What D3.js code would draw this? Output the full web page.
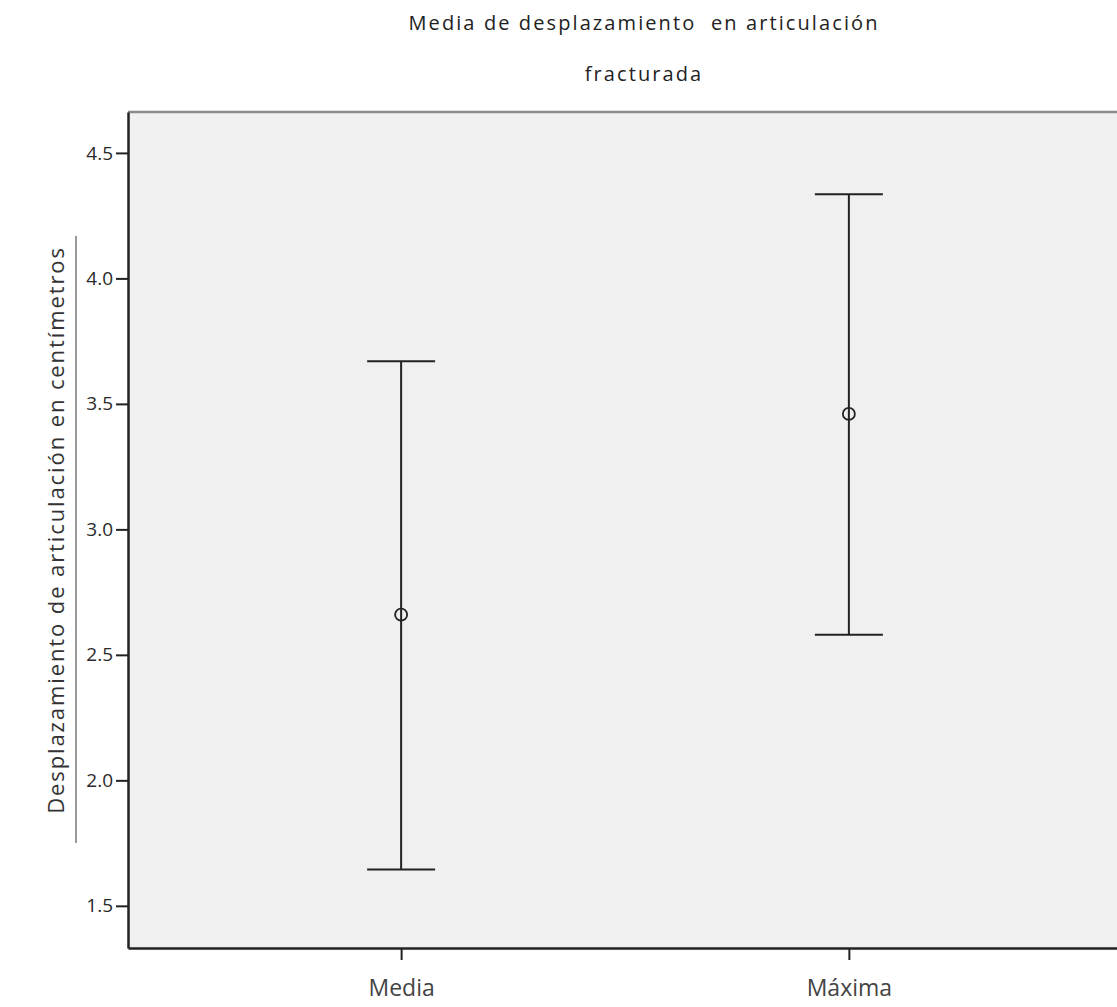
<!DOCTYPE html>
<html>
<head>
<meta charset="utf-8">
<script src="https://cdn.jsdelivr.net/npm/d3@7"></script>
<style>
  body { margin: 0; background: #fff; }
  text { font-family: "Open Sans", "Noto Sans", sans-serif; }
</style>
</head>
<body>
<div id="chart"></div>
<script>
// values
var categories = ["Media", "Máxima"];
var means = [2.66, 3.46];
var upper = [3.67, 4.335];
var lower = [1.645, 2.58];
var yTicks = [1.5, 2.0, 2.5, 3.0, 3.5, 4.0, 4.5];
var titleLines = ["Media de desplazamiento  en articulación", "fracturada"];
var yTitle = "Desplazamiento de articulación en centímetros";

var W = 1117, H = 1007;
var pLeft = 128, pTop = 112, pRight = 1122, pBottom = 948;

var svg = d3.select("#chart").append("svg")
    .attr("width", W)
    .attr("height", H);

var x = d3.scalePoint()
    .domain(categories)
    .range([pLeft, pRight])
    .padding(0.61);

var y = d3.scaleLinear()
    .domain([1.332, 4.663])
    .range([pBottom, pTop]);

// plot background
svg.append("rect")
    .attr("x", pLeft)
    .attr("y", pTop)
    .attr("width", pRight - pLeft)
    .attr("height", pBottom - pTop)
    .attr("fill", "#f0f0f0");

svg.append("line")
    .attr("x1", pLeft).attr("x2", pRight)
    .attr("y1", pTop).attr("y2", pTop)
    .attr("stroke", "#8a8a8a")
    .attr("stroke-width", 2.5);

// axes
var yAxis = svg.append("g")
    .attr("transform", "translate(" + pLeft + ",0)")
    .call(d3.axisLeft(y).tickValues(yTicks).tickFormat(d3.format(".1f")).tickSize(12).tickPadding(3).tickSizeOuter(0));

var xAxis = svg.append("g")
    .attr("transform", "translate(0," + pBottom + ")")
    .call(d3.axisBottom(x).tickSize(12).tickPadding(20).tickSizeOuter(0));

yAxis.select(".domain").attr("stroke", "#222").attr("stroke-width", 2.5);
xAxis.select(".domain").attr("stroke", "#222").attr("stroke-width", 2.5);
yAxis.selectAll(".tick line").attr("stroke", "#222").attr("stroke-width", 2);
xAxis.selectAll(".tick line").attr("stroke", "#222").attr("stroke-width", 2);
yAxis.selectAll(".tick text")
    .attr("font-size", 19)
    .attr("font-family", "Open Sans, sans-serif")
    .attr("fill", "#2a2a2a");
xAxis.selectAll(".tick text")
    .attr("font-size", 23)
    .attr("font-family", "Open Sans, sans-serif")
    .attr("fill", "#444");

// error bars
var capW = 68;
var bars = svg.selectAll(".errbar")
    .data(categories)
    .enter().append("g")
    .attr("class", "errbar");

bars.append("line")
    .attr("x1", function(d) { return x(d); })
    .attr("x2", function(d) { return x(d); })
    .attr("y1", function(d, i) { return y(upper[i]); })
    .attr("y2", function(d, i) { return y(lower[i]); })
    .attr("stroke", "#222")
    .attr("stroke-width", 2);

bars.append("line")
    .attr("x1", function(d) { return x(d) - capW / 2; })
    .attr("x2", function(d) { return x(d) + capW / 2; })
    .attr("y1", function(d, i) { return y(upper[i]); })
    .attr("y2", function(d, i) { return y(upper[i]); })
    .attr("stroke", "#222")
    .attr("stroke-width", 2);

bars.append("line")
    .attr("x1", function(d) { return x(d) - capW / 2; })
    .attr("x2", function(d) { return x(d) + capW / 2; })
    .attr("y1", function(d, i) { return y(lower[i]); })
    .attr("y2", function(d, i) { return y(lower[i]); })
    .attr("stroke", "#222")
    .attr("stroke-width", 2);

bars.append("circle")
    .attr("cx", function(d) { return x(d); })
    .attr("cy", function(d, i) { return y(means[i]); })
    .attr("r", 6)
    .attr("fill", "none")
    .attr("stroke", "#222")
    .attr("stroke-width", 1.8);

// title
svg.selectAll(".title")
    .data(titleLines)
    .enter().append("text")
    .attr("class", "title")
    .attr("x", 644)
    .attr("y", function(d, i) { return 30 + i * 51; })
    .attr("text-anchor", "middle")
    .attr("font-size", 20)
    .attr("letter-spacing", 2.1)
    .attr("fill", "#222")
    .style("white-space", "pre")
    .text(function(d) { return d; });

// y title with its side line
svg.append("line")
    .attr("x1", 76).attr("x2", 76)
    .attr("y1", 236).attr("y2", 843)
    .attr("stroke", "#777")
    .attr("stroke-width", 1.5);

svg.append("text")
    .attr("transform", "translate(64,530) rotate(-90)")
    .attr("text-anchor", "middle")
    .attr("font-size", 22)
    .attr("letter-spacing", 1.9)
    .attr("fill", "#333")
    .text(yTitle);
</script>
</body>
</html>
